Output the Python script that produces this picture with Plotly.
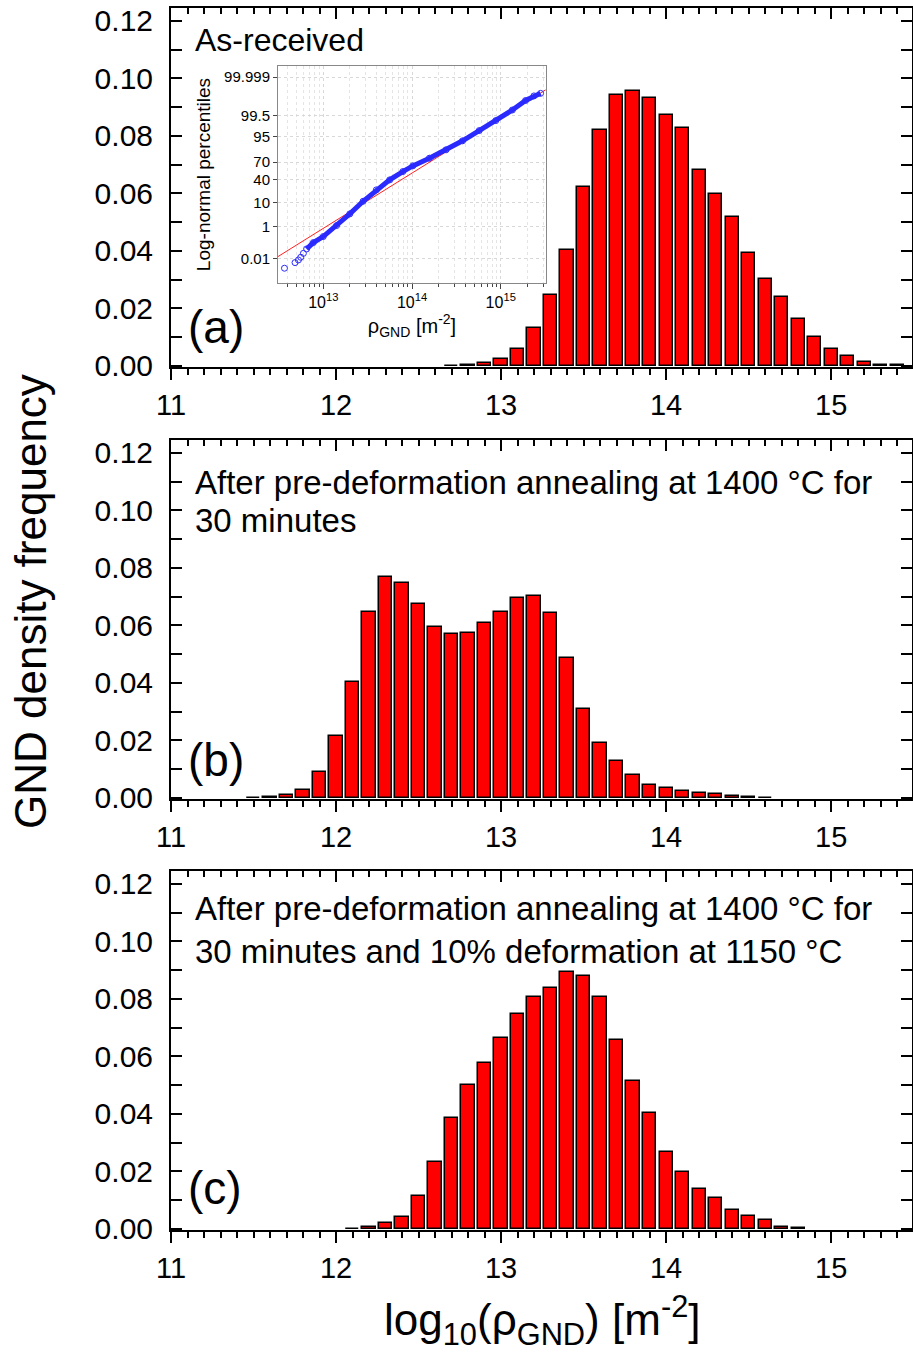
import plotly.graph_objects as go
from statistics import NormalDist

W, H = 913, 1354
FONT = "Liberation Sans, Arial, sans-serif"

# ---------------- data ----------------
bins_a = [12.7, 12.8, 12.9, 13.0, 13.1, 13.2, 13.3, 13.4, 13.5, 13.6, 13.7, 13.8, 13.9, 14.0,
          14.1, 14.2, 14.3, 14.4, 14.5, 14.6, 14.7, 14.8, 14.9, 15.0, 15.1, 15.2, 15.3, 15.4]
freq_a = [0.0001, 0.0003, 0.0010, 0.0023, 0.0058, 0.0131, 0.0245, 0.0403, 0.0621, 0.0820, 0.0944,
          0.0955, 0.0932, 0.0873, 0.0827, 0.0682, 0.0597, 0.0517, 0.0391, 0.0303, 0.0239, 0.0162,
          0.0101, 0.0058, 0.0034, 0.0013, 0.0004, 0.0002]

bins_b = [11.5, 11.6, 11.7, 11.8, 11.9, 12.0, 12.1, 12.2, 12.3, 12.4, 12.5, 12.6, 12.7, 12.8, 12.9,
          13.0, 13.1, 13.2, 13.3, 13.4, 13.5, 13.6, 13.7, 13.8, 13.9, 14.0, 14.1, 14.2, 14.3, 14.4,
          14.5, 14.6]
freq_b = [0.0001, 0.0002, 0.0010, 0.0029, 0.0089, 0.0216, 0.0403, 0.0646, 0.0770, 0.0749, 0.0673,
          0.0594, 0.0570, 0.0574, 0.0609, 0.0647, 0.0694, 0.0703, 0.0644, 0.0485, 0.0310, 0.0192,
          0.0127, 0.0079, 0.0045, 0.0036, 0.0024, 0.0017, 0.0014, 0.0007, 0.0002, 0.0001]

bins_c = [12.1, 12.2, 12.3, 12.4, 12.5, 12.6, 12.7, 12.8, 12.9, 13.0, 13.1, 13.2, 13.3, 13.4,
          13.5, 13.6, 13.7, 13.8, 13.9, 14.0, 14.1, 14.2, 14.3, 14.4, 14.5, 14.6, 14.7, 14.8]
freq_c = [0.0001, 0.0005, 0.0020, 0.0040, 0.0115, 0.0232, 0.0386, 0.0499, 0.0578, 0.0665, 0.0746,
          0.0808, 0.0838, 0.0892, 0.0881, 0.0806, 0.0658, 0.0513, 0.0403, 0.0269, 0.0198, 0.0140,
          0.0106, 0.0066, 0.0044, 0.0030, 0.0008, 0.0002]

x_ticks = [11, 12, 13, 14, 15]
y_ticks = [0.00, 0.02, 0.04, 0.06, 0.08, 0.10, 0.12]

# inset: log-normal probability plot (log10 rho, cumulative percentile)
tail_log = [12.563, 12.682, 12.720, 12.746, 12.776]
tail_pct = [0.0016, 0.0046, 0.0074, 0.0119, 0.023]
band_log = [12.813, 12.888, 13.000, 13.150, 13.299, 13.449, 13.598, 13.748, 13.897, 14.009,
            14.196, 14.383, 14.570, 14.757, 14.944, 15.131, 15.280, 15.374, 15.449]
band_pct = [0.047, 0.123, 0.286, 1.14, 3.9, 11.4, 24.1, 39.6, 54.2, 63.9,
            75.6, 85.6, 92.8, 97.2, 99.07, 99.76, 99.94, 99.971, 99.981]
fit_log = [12.49, 15.505]
fit_pct = [0.0134, 99.9895]
inset_pct_ticks = [0.01, 1, 10, 40, 70, 95, 99.5, 99.999]
inset_pct_labels = ["0.01", "1", "10", "40", "70", "95", "99.5", "99.999"]
inset_x_ticks = [1e13, 1e14, 1e15]
inset_x_labels = ["10<sup>13</sup>", "10<sup>14</sup>", "10<sup>15</sup>"]

nd = NormalDist()
def zq(p):
    return nd.inv_cdf(p / 100.0)

# ---------------- figure ----------------
fig = go.Figure()

def px_x(v):
    return v / W

def px_y(v):
    return 1 - v / H

panels = [(bins_a, freq_a, 8, 367), (bins_b, freq_b, 440, 799), (bins_c, freq_c, 871, 1230)]
layout = {}
for i, (bx, fy, top, bot) in enumerate(panels, start=1):
    xs = "" if i == 1 else str(i)
    fig.add_trace(go.Bar(x=bx, y=fy, width=0.08, xaxis="x" + xs, yaxis="y" + xs,
                         marker=dict(color="#FF0000", line=dict(color="black", width=1.5)),
                         showlegend=False))
    top_id = str(i + 4)
    fig.add_trace(go.Scatter(x=[], y=[], xaxis="x" + top_id, yaxis="y" + xs, showlegend=False))
    layout["xaxis" + xs] = dict(
        domain=[px_x(171), px_x(912)], range=[11, 15.49], anchor="y" + xs, automargin=False,
        tickvals=x_ticks, ticks="outside", ticklen=11, tickwidth=2, tickcolor="black",
        tickfont=dict(size=29, color="black", family=FONT),
        showline=True, linewidth=2, linecolor="black", mirror=True, showgrid=False, zeroline=False,
        minor=dict(dtick=0.1, tick0=11, ticks="outside", ticklen=6, tickwidth=1.5, tickcolor="black",
                   showgrid=False))
    layout["xaxis" + top_id] = dict(
        domain=[px_x(171), px_x(912)], range=[11, 15.49], anchor="y" + xs, overlaying="x" + xs,
        side="top", tickvals=x_ticks, ticks="inside", ticklen=11, tickwidth=2, tickcolor="black",
        showticklabels=False, showline=False, showgrid=False, zeroline=False, automargin=False,
        minor=dict(dtick=0.1, tick0=11, ticks="inside", ticklen=6, tickwidth=1.5, tickcolor="black",
                   showgrid=False))
    layout["yaxis" + xs] = dict(
        domain=[px_y(bot), px_y(top)], range=[-0.0004, 0.1245], anchor="x" + xs, automargin=False,
        tickvals=y_ticks, tickformat=".2f", ticks="inside", ticklen=11, tickwidth=2,
        tickcolor="black", ticklabelstandoff=10,
        tickfont=dict(size=30, color="black", family=FONT),
        showline=True, linewidth=2, linecolor="black", mirror="allticks", showgrid=False,
        zeroline=False,
        minor=dict(dtick=0.01, tick0=0, ticks="inside", ticklen=6, tickwidth=1.5, tickcolor="black",
                   showgrid=False))

# inset
minor_vals = [m * 10 ** k for k in (12, 13, 14, 15) for m in range(2, 10)]
fig.add_trace(go.Scatter(x=[10 ** v for v in fit_log], y=[zq(p) for p in fit_pct],
                         mode="lines", line=dict(color="#ff2020", width=1),
                         xaxis="x4", yaxis="y4", showlegend=False))
fig.add_trace(go.Scatter(x=[10 ** v for v in band_log], y=[zq(p) for p in band_pct],
                         mode="lines+markers", line=dict(color="#2a2aff", width=5),
                         marker=dict(symbol="circle-open", size=6, color="#2a2aff", line=dict(width=1)),
                         xaxis="x4", yaxis="y4", showlegend=False))
fig.add_trace(go.Scatter(x=[10 ** v for v in tail_log], y=[zq(p) for p in tail_pct],
                         mode="markers",
                         marker=dict(symbol="circle-open", size=6, color="#2a2aff", line=dict(width=1)),
                         xaxis="x4", yaxis="y4", showlegend=False))
layout["xaxis4"] = dict(
    type="log", domain=[px_x(278), px_x(546)], range=[12.49, 15.51], anchor="y4", automargin=False,
    tickvals=inset_x_ticks, ticktext=inset_x_labels, ticks="outside", ticklen=5, tickwidth=1,
    tickcolor="#444", tickfont=dict(size=16, color="black", family=FONT),
    showline=True, linewidth=1, linecolor="#888", mirror=True, zeroline=False,
    showgrid=True, gridcolor="#d8d8d8", griddash="dot", gridwidth=1,
    minor=dict(tickmode="array", tickvals=minor_vals, ticks="outside", ticklen=3, tickwidth=1,
               tickcolor="#444", showgrid=True, gridcolor="#e4e4e4", griddash="dot", gridwidth=1),
    title=dict(text="ρ<sub>GND</sub> [m<sup>-2</sup>]", font=dict(size=20, color="black", family=FONT),
               standoff=4))
layout["yaxis4"] = dict(
    domain=[px_y(283), px_y(66)], range=[-4.81, 4.76], anchor="x4", automargin=False,
    tickvals=[zq(p) for p in inset_pct_ticks], ticktext=inset_pct_labels,
    ticks="outside", ticklen=4, tickwidth=1, tickcolor="#444",
    tickfont=dict(size=15, color="black", family=FONT),
    showline=True, linewidth=1, linecolor="#888", mirror=True, zeroline=False,
    showgrid=True, gridcolor="#d8d8d8", griddash="dot", gridwidth=1,
    title=dict(text="Log-normal percentiles", font=dict(size=19, color="black", family=FONT),
               standoff=8))

annotations = []
def ann(text, x, y, size, xanchor="left", angle=0):
    annotations.append(dict(text=text, x=px_x(x), y=px_y(y), xref="paper", yref="paper",
                            xanchor=xanchor, yanchor="middle", showarrow=False, textangle=angle,
                            font=dict(size=size, color="black", family=FONT)))

ann("As-received", 193, 40, 32)
ann("(a)", 186, 327, 46)
ann("After pre-deformation annealing at 1400 °C for", 193, 482, 33)
ann("30 minutes", 193, 521, 33)
ann("(b)", 186, 760, 46)
ann("After pre-deformation annealing at 1400 °C for", 193, 908, 33)
ann("30 minutes and 10% deformation at 1150 °C", 193, 951, 33)
ann("(c)", 186, 1188, 46)
ann("GND density frequency", 30, 602, 44, xanchor="center", angle=-90)
ann("log<sub>10</sub>(ρ<sub>GND</sub>) [m<sup>-2</sup>]", 542, 1320, 44, xanchor="center")

fig.update_layout(
    width=W, height=H, margin=dict(l=0, r=0, t=0, b=0, autoexpand=False),
    paper_bgcolor="white", plot_bgcolor="rgba(0,0,0,0)",
    font=dict(family=FONT, color="black"),
    bargap=0, annotations=annotations, showlegend=False,
    **layout)

fig.write_html("out.html", config={"displayModeBar": False},
               post_script="document.body.style.margin='0';document.body.style.padding='0';")
